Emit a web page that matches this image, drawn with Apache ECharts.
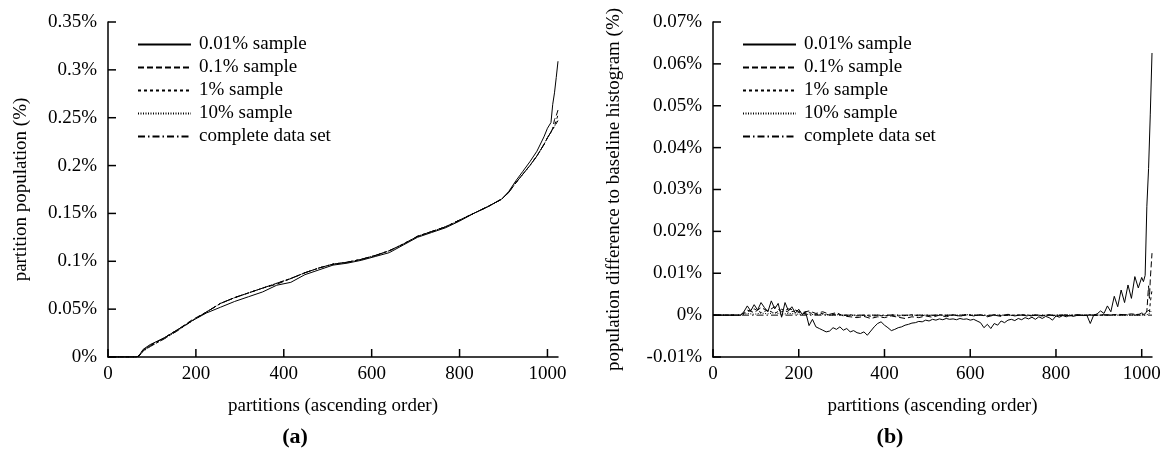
<!DOCTYPE html>
<html>
<head>
<meta charset="utf-8">
<script src="https://cdn.jsdelivr.net/npm/echarts@6/dist/echarts.min.js"></script>
<style>html,body{margin:0;padding:0;background:#fff}#c{width:1165px;height:452px}#err{position:absolute;left:0;top:0;font:11px sans-serif;color:#c00}</style>
</head>
<body>
<div id="c"></div>
<div id="err"></div>
<script>
function showErr(m) { document.getElementById('err').textContent += ' ' + m; }
window.onerror = function (m) { showErr(m); };

// ---------- data ----------
var seriesNames = ['0.01% sample', '0.1% sample', '1% sample', '10% sample', 'complete data set'];
var xTickLabels = [0, 200, 400, 600, 800, 1000];
var yTicksA = [0, 0.05, 0.1, 0.15, 0.2, 0.25, 0.3, 0.35];
var yTicksB = [-0.01, 0, 0.01, 0.02, 0.03, 0.04, 0.05, 0.06, 0.07];

// (a) partition population (%) – sorted partitions
var xsA = [0,64,70,80,96,128,160,192,224,256,288,320,352,384,416,448,480,512,544,576,608,640,672,704,736,768,800,832,864,896,912,928,944,960,976,992,1000,1008,1012,1016,1020,1024];
var popComplete = [0,0,0.001,0.006,0.011,0.019,0.028,0.038,0.047,0.056,0.062,0.067,0.072,0.077,0.082,0.088,0.093,0.097,0.099,0.102,0.106,0.111,0.118,0.126,0.131,0.136,0.143,0.150,0.157,0.165,0.172,0.182,0.191,0.200,0.210,0.222,0.229,0.235,0.238,0.241,0.244,0.247];
var pop001 = [0,0,0.001,0.008,0.013,0.020,0.029,0.038,0.046,0.052,0.058,0.063,0.068,0.075,0.078,0.086,0.091,0.096,0.098,0.101,0.105,0.109,0.117,0.125,0.130,0.135,0.142,0.150,0.157,0.165,0.173,0.184,0.194,0.204,0.215,0.230,0.239,0.245,0.264,0.276,0.292,0.309];
var pop01 = [0,0,0.001,0.007,0.012,0.020,0.029,0.039,0.047,0.056,0.062,0.067,0.072,0.076,0.082,0.088,0.093,0.097,0.099,0.102,0.106,0.111,0.118,0.126,0.131,0.136,0.143,0.150,0.157,0.165,0.172,0.182,0.191,0.200,0.210,0.222,0.229,0.235,0.239,0.248,0.252,0.258];
var pop1 = [0,0,0.001,0.007,0.012,0.020,0.029,0.038,0.047,0.056,0.062,0.067,0.072,0.077,0.082,0.088,0.093,0.097,0.099,0.102,0.106,0.111,0.118,0.126,0.131,0.136,0.143,0.150,0.157,0.165,0.172,0.182,0.191,0.200,0.210,0.222,0.229,0.235,0.238,0.242,0.247,0.253];
var pop10 = [0,0,0.001,0.006,0.011,0.019,0.028,0.038,0.047,0.056,0.062,0.067,0.072,0.077,0.082,0.088,0.093,0.097,0.099,0.102,0.106,0.111,0.118,0.126,0.131,0.136,0.143,0.150,0.157,0.165,0.172,0.182,0.191,0.200,0.210,0.222,0.229,0.235,0.238,0.241,0.244,0.248];

// (b) population difference to baseline histogram (%)
var xsB8 = [0,64,72,80,88,96,104,112,120,128,136,144,152,160,168,176,184,192,200,208,216,224,232,240,248,256,264,272,280,288,296,304,312,320,328,336,344,352,360,368,376,384,392,400,408,416,424,432,440,448,456,464,472,480,488,496,504,512,520,528,536,544,552,560,568,576,584,592,600,608,616,624,632,640,648,656,664,672,680,688,696,704,712,720,728,736,744,752,760,768,776,784,792,800,808,816,824,832,840,848,856,864,872,880,888,896,904,912,920,928,936,944,952,960,968,976,984,992,1000,1004,1008,1012,1016,1020,1024];
var diff001 = [0,0,0.0008,0.0022,0.0010,0.0025,0.0012,0.0030,0.0018,0.0008,0.0034,0.0015,0.0028,-0.0005,0.0030,0.0010,0.0020,0.0005,0.0014,0.0002,0.0008,-0.0025,-0.0010,-0.0028,-0.0032,-0.0036,-0.0040,-0.0038,-0.0030,-0.0034,-0.0028,-0.0036,-0.0032,-0.0040,-0.0037,-0.0042,-0.0044,-0.0040,-0.0048,-0.0038,-0.0028,-0.0020,-0.0016,-0.0024,-0.0030,-0.0037,-0.0034,-0.0030,-0.0028,-0.0024,-0.0022,-0.0019,-0.0018,-0.0015,-0.0016,-0.0012,-0.0014,-0.0010,-0.0012,-0.0009,-0.0011,-0.0008,-0.0010,-0.0009,-0.0011,-0.0008,-0.0010,-0.0009,-0.0012,-0.0010,-0.0014,-0.0018,-0.0030,-0.0022,-0.0032,-0.0020,-0.0024,-0.0014,-0.0018,-0.0012,-0.0010,-0.0013,-0.0008,-0.0011,-0.0006,-0.0009,-0.0005,-0.0010,-0.0004,-0.0008,-0.0003,-0.0006,-0.0012,-0.0002,-0.0005,-0.0001,-0.0004,0.0000,-0.0003,-0.0001,0.0000,-0.0001,0.0000,-0.0020,0.0000,0.0003,0.0010,0.0004,0.0022,0.0008,0.0045,0.0020,0.0060,0.0030,0.0072,0.0040,0.0092,0.0065,0.0090,0.0080,0.0095,0.0260,0.0350,0.0480,0.0626];
var xsB16 = [0,64,80,96,112,128,144,160,176,192,208,224,240,256,272,288,304,320,336,352,368,384,400,416,432,448,464,480,496,512,528,544,560,576,592,608,624,640,656,672,688,704,720,736,752,768,784,800,816,832,848,864,880,896,912,928,944,960,976,992,1000,1008,1012,1016,1018,1020,1024];
var diff01 = [0,0,0.0012,0.0006,0.0018,0.0010,0.0020,0.0008,0.0015,0.0012,0.0006,0.0010,0.0004,0.0008,0.0002,0.0006,-0.0002,-0.0004,-0.0006,-0.0003,-0.0008,-0.0004,-0.0006,-0.0002,-0.0005,-0.0008,-0.0004,-0.0006,-0.0002,-0.0005,0.0000,-0.0004,0.0001,-0.0003,0.0002,-0.0002,0.0001,-0.0004,0.0000,-0.0003,0.0002,-0.0002,0.0001,-0.0003,0.0000,-0.0002,0.0001,-0.0003,0.0000,-0.0002,0.0001,-0.0001,0.0000,0.0000,0.0001,0.0000,0.0002,0.0001,0.0003,0.0001,0.0005,0.0002,0.0010,0.0070,0.0040,0.0085,0.0148];
var diff1 = [0,0,0.0008,0.0015,0.0006,0.0012,0.0004,0.0014,0.0007,0.0010,0.0003,0.0006,0.0002,0.0004,0.0000,0.0003,-0.0001,0.0001,-0.0002,0.0000,-0.0003,-0.0001,-0.0002,0.0001,-0.0002,-0.0001,0.0001,-0.0002,0.0000,-0.0001,0.0001,-0.0001,0.0000,-0.0002,0.0001,-0.0001,0.0000,-0.0002,0.0001,-0.0001,0.0000,-0.0001,0.0001,-0.0001,0.0000,-0.0001,0.0000,-0.0001,0.0001,-0.0001,0.0000,0.0000,0.0001,0.0000,0.0000,0.0001,0.0000,0.0001,0.0000,0.0002,0.0001,0.0003,0.0002,0.0012,0.0005,0.0030,0.0060];
var diff10 = [0,0,0.0004,0.0002,0.0005,0.0003,0.0006,0.0002,0.0004,0.0003,0.0001,0.0002,0.0001,0.0002,0.0000,0.0001,0.0000,-0.0001,0.0000,-0.0001,0.0000,0.0000,-0.0001,0.0000,0.0000,-0.0001,0.0000,0.0000,0.0000,-0.0001,0.0000,0.0000,0.0000,0.0000,0.0001,0.0000,0.0000,-0.0001,0.0000,0.0000,0.0000,0.0000,0.0000,0.0000,0.0000,0.0000,0.0000,0.0000,0.0000,0.0000,0.0000,0.0000,0.0000,0.0000,0.0000,0.0000,0.0000,0.0000,0.0000,0.0000,0.0000,0.0000,0.0000,0.0002,0.0001,0.0006,0.0012];
var xsBC = [0, 1024];
var diffComplete = [0, 0];

// ---------- styles ----------
var FONT = 'Liberation Serif';
var dashTypes = ['solid', [6, 3], [3, 3], [1, 1.5], [7, 3, 1.5, 3]];

function pairs(xs, ys) { return xs.map(function (x, i) { return [x, ys[i]]; }); }
function pctFmt(v) { return (+v.toFixed(4)) + '%'; }

function mkSeries(name, idx, xs, ys, axisIdx) {
  return {
    type: 'line', name: name, xAxisIndex: axisIdx, yAxisIndex: axisIdx,
    data: pairs(xs, ys), symbol: 'none', showSymbol: false,
    lineStyle: { color: '#000', width: 1, type: dashTypes[idx] },
    itemStyle: { color: '#000' }, z: 10 - idx
  };
}

function xAxisCfg(gi) {
  return {
    type: 'value', gridIndex: gi, min: 0, max: 1024, interval: 200,
    name: 'partitions (ascending order)', nameLocation: 'middle', nameGap: 40,
    nameTextStyle: { fontFamily: FONT, fontSize: 19, color: '#000' },
    axisLine: { show: true, onZero: false, lineStyle: { color: '#000', width: 1.5 } },
    axisTick: { show: false },
    axisLabel: { formatter: function (v) { return v % 200 === 0 ? String(v) : ''; }, fontFamily: FONT, fontSize: 19, color: '#000', margin: 8 },
    splitLine: { show: false }
  };
}
function yAxisCfg(gi, min, max, interval, name, gap) {
  return {
    type: 'value', gridIndex: gi, min: min, max: max, interval: interval,
    name: name, nameLocation: 'middle', nameGap: gap, nameRotate: 90,
    nameTextStyle: { fontFamily: FONT, fontSize: 19, color: '#000' },
    axisLine: { show: true, onZero: false, lineStyle: { color: '#000', width: 1.5 } },
    axisTick: { show: false },
    axisLabel: { formatter: pctFmt, fontFamily: FONT, fontSize: 19, color: '#000', margin: 11 },
    splitLine: { show: false }
  };
}
function legendCfg(left) {
  return {
    data: seriesNames, orient: 'vertical', left: left, top: 30,
    itemWidth: 53, itemHeight: 14, itemGap: 4, selectedMode: false,
    itemStyle: { opacity: 0 },
    textStyle: { fontFamily: FONT, fontSize: 19, color: '#000', lineHeight: 19, padding: [0, 0, 0, 3] }
  };
}

var popSets = [pop001, pop01, pop1, pop10, popComplete];
var series = [];
popSets.forEach(function (ys, i) { series.push(mkSeries(seriesNames[i], i, xsA, ys, 0)); });
series.push(mkSeries(seriesNames[0], 0, xsB8, diff001, 1));
series.push(mkSeries(seriesNames[1], 1, xsB16, diff01, 1));
series.push(mkSeries(seriesNames[2], 2, xsB16, diff1, 1));
series.push(mkSeries(seriesNames[3], 3, xsB16, diff10, 1));
series.push(mkSeries(seriesNames[4], 4, xsBC, diffComplete, 1));

var captions = [
  { type: 'text', x: 295, y: 437, style: { text: '(a)', font: 'bold 22px "Liberation Serif"', fill: '#000', textAlign: 'center', textVerticalAlign: 'middle' } },
  { type: 'text', x: 890, y: 437, style: { text: '(b)', font: 'bold 22px "Liberation Serif"', fill: '#000', textAlign: 'center', textVerticalAlign: 'middle' } }
];

var chart = echarts.init(document.getElementById('c'));
try {
  chart.setOption({
    animation: false,
    backgroundColor: '#fff',
    grid: [
      { left: 108, top: 22, width: 450, height: 335 },
      { left: 713, top: 22, width: 439, height: 335 }
    ],
    xAxis: [xAxisCfg(0), xAxisCfg(1)],
    yAxis: [
      yAxisCfg(0, 0, 0.35, 0.05, 'partition population (%)', 77),
      yAxisCfg(1, -0.01, 0.07, 0.01, 'population difference to baseline histogram (%)', 89)
    ],
    legend: [legendCfg(132), legendCfg(737)],
    graphic: { elements: captions },
    series: series
  });

  // inward tick marks, positioned through the chart's own axis scales
  var TL = 8;
  var ticks = [];
  function addTicks(gi, xVals, yVals, xMin, yMin) {
    xVals.forEach(function (v) {
      var p = chart.convertToPixel({ gridIndex: gi }, [v, yMin]);
      ticks.push({ type: 'line', shape: { x1: p[0], y1: p[1], x2: p[0], y2: p[1] - TL }, style: { stroke: '#000', lineWidth: 1.5 }, z: 100 });
    });
    yVals.forEach(function (v) {
      var p = chart.convertToPixel({ gridIndex: gi }, [xMin, v]);
      ticks.push({ type: 'line', shape: { x1: p[0], y1: p[1], x2: p[0] + TL, y2: p[1] }, style: { stroke: '#000', lineWidth: 1.5 }, z: 100 });
    });
  }
  addTicks(0, xTickLabels, yTicksA, 0, 0);
  addTicks(1, xTickLabels, yTicksB, 0, -0.01);
  chart.setOption({ graphic: { elements: captions.concat(ticks) } }, { replaceMerge: ['graphic'] });
} catch (e) { showErr(e && e.message); }
</script>
</body>
</html>
